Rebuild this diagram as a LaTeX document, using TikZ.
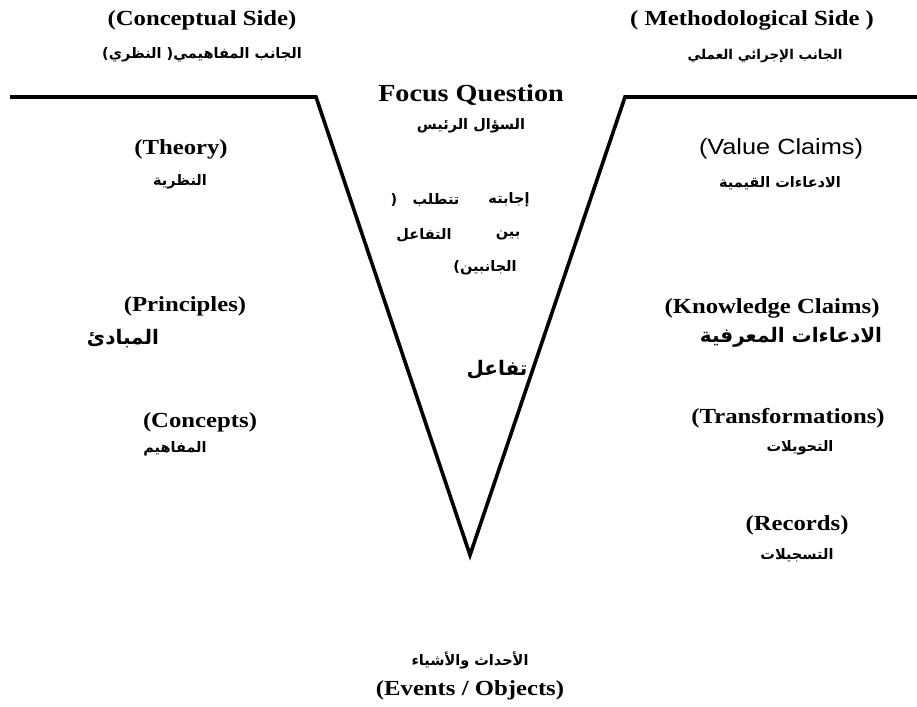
\documentclass[tikz,border=0pt]{standalone}
\usepackage{fontspec}
\setmainfont{Liberation Serif}
\TeXXeTstate=1
\newfontfamily\enserif{Liberation Serif}[FakeStretch=1.15]
\newfontfamily\ensans{Liberation Sans}[FakeStretch=1.15]
\newfontfamily\arb{DejaVu Sans}[Script=Arabic]
\begin{document}
\begin{tikzpicture}[x=1pt,y=-1pt,
  en/.style={font=\enserif\bfseries\fontsize{21.5}{24}\selectfont, inner sep=0pt},
  enbig/.style={font=\enserif\bfseries\fontsize{24.5}{28}\selectfont, inner sep=0pt},
  ensn/.style={font=\ensans\fontsize{22}{24}\selectfont, inner sep=0pt},
  ar/.style={font=\arb\bfseries\fontsize{14.5}{17}\selectfont, inner sep=0pt},
  arbig/.style={font=\arb\bfseries\fontsize{20}{22}\selectfont, inner sep=0pt},
  vline/.style={line width=3.6pt, line join=miter}]
\useasboundingbox (0,0) rectangle (917,706);
\fill[white] (0,0) rectangle (917,706);
% V shape
\coordinate (L) at (10,97);
\coordinate (A) at (316,97);
\coordinate (B) at (470,555);
\coordinate (C) at (625,97);
\coordinate (R) at (917,97);
\draw[vline] (L) -- (A) -- (B) -- (C) -- (R);
% top headings
\node[en] (cs) at (202,20) {(Conceptual Side)};
\node[ar] (csa) at (202,55) {\beginR الجانب المفاهيمي( النظري)\endR};
\node[en] (ms) at (752,20) {( Methodological Side )};
\node[ar,font=\arb\bfseries\fontsize{13.5}{16}\selectfont] (msa) at (765,56) {\beginR الجانب الإجرائي العملي\endR};
% focus question
\node[enbig] (fq) at (471,95) {Focus Question};
\node[ar] (fqa) at (471,126) {\beginR السؤال الرئيس\endR};
\node[ar] (m1a) at (394,200) {(};
\node[ar] (m1b) at (436,200) {تتطلب};
\node[ar] (m1c) at (509,200) {إجابته};
\node[ar] (m2a) at (424,235) {التفاعل};
\node[ar] (m2b) at (508,235) {بين};
\node[ar] (m3) at (485,268) {\beginR الجانبين)\endR};
\node[arbig] (taf) at (497,370) {تفاعل};
% left side
\node[en] (th) at (181,149) {(Theory)};
\node[ar] (tha) at (180,182) {النظرية};
\node[en] (pr) at (185,306) {(Principles)};
\node[arbig] (pra) at (123,339) {المبادئ};
\node[en] (co) at (200,422) {(Concepts)};
\node[ar] (coa) at (175,449) {المفاهيم};
% right side
\node[ensn] (vc) at (781,149) {(Value Claims)};
\node[ar] (vca) at (780,183) {\beginR الادعاءات القيمية\endR};
\node[en] (kc) at (772,308) {(Knowledge Claims)};
\node[arbig] (kca) at (791,337) {\beginR الادعاءات المعرفية\endR};
\node[en] (tr) at (788,418) {(Transformations)};
\node[ar] (tra) at (800,448) {التحويلات};
\node[en] (rc) at (797,525) {(Records)};
\node[ar] (rca) at (797,555) {التسجيلات};
% bottom
\node[ar] (eva) at (470,660) {\beginR الأحداث والأشياء\endR};
\node[en] (ev) at (470,690) {(Events / Objects)};
\end{tikzpicture}
\end{document}
